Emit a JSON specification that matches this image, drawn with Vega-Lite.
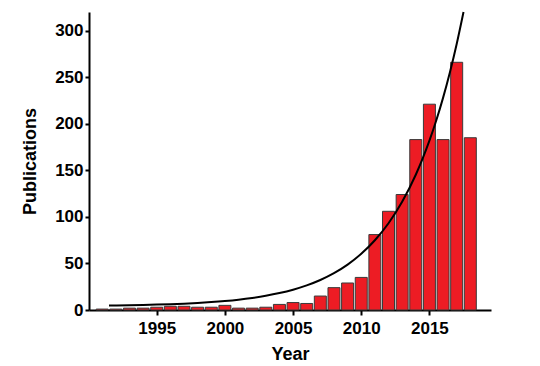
{
  "$schema": "https://vega.github.io/schema/vega-lite/v6.json",
  "width": 402,
  "height": 298,
  "autosize": "none",
  "padding": {"left": 89, "top": 12, "right": 49, "bottom": 56},
  "background": "white",
  "config": {
    "view": {"stroke": null},
    "font": "Liberation Sans",
    "axis": {
      "grid": false,
      "domainColor": "black",
      "domainWidth": 2,
      "tickColor": "black",
      "tickWidth": 2,
      "tickSize": 5,
      "labelFont": "Liberation Sans",
      "labelFontWeight": "bold",
      "labelFontSize": 17,
      "labelColor": "black",
      "titleFont": "Liberation Sans",
      "titleFontWeight": "bold",
      "titleFontSize": 18,
      "titleColor": "black"
    }
  },
  "datasets": {
    "bars": [
      {"year": 1991, "pubs": 1},
      {"year": 1992, "pubs": 1},
      {"year": 1993, "pubs": 2},
      {"year": 1994, "pubs": 2},
      {"year": 1995, "pubs": 3},
      {"year": 1996, "pubs": 4},
      {"year": 1997, "pubs": 4},
      {"year": 1998, "pubs": 3},
      {"year": 1999, "pubs": 3},
      {"year": 2000, "pubs": 5},
      {"year": 2001, "pubs": 2},
      {"year": 2002, "pubs": 2},
      {"year": 2003, "pubs": 3},
      {"year": 2004, "pubs": 6},
      {"year": 2005, "pubs": 8},
      {"year": 2006, "pubs": 7},
      {"year": 2007, "pubs": 15},
      {"year": 2008, "pubs": 24},
      {"year": 2009, "pubs": 29},
      {"year": 2010, "pubs": 35},
      {"year": 2011, "pubs": 81},
      {"year": 2012, "pubs": 106},
      {"year": 2013, "pubs": 124},
      {"year": 2014, "pubs": 183},
      {"year": 2015, "pubs": 221},
      {"year": 2016, "pubs": 183},
      {"year": 2017, "pubs": 266},
      {"year": 2018, "pubs": 185}
    ],
    "fit": [
      {"year": 1991.5, "pubs": 4.8},
      {"year": 1992, "pubs": 4.9},
      {"year": 1993, "pubs": 5.13},
      {"year": 1994, "pubs": 5.42},
      {"year": 1995, "pubs": 5.79},
      {"year": 1996, "pubs": 6.25},
      {"year": 1997, "pubs": 6.83},
      {"year": 1998, "pubs": 7.56},
      {"year": 1999, "pubs": 8.49},
      {"year": 2000, "pubs": 9.65},
      {"year": 2001, "pubs": 11.1},
      {"year": 2002, "pubs": 12.94},
      {"year": 2003, "pubs": 15.25},
      {"year": 2004, "pubs": 18.16},
      {"year": 2005, "pubs": 21.83},
      {"year": 2006, "pubs": 26.44},
      {"year": 2007, "pubs": 32.24},
      {"year": 2008, "pubs": 39.54},
      {"year": 2009, "pubs": 48.73},
      {"year": 2010, "pubs": 60.3},
      {"year": 2011, "pubs": 74.86},
      {"year": 2012, "pubs": 93.19},
      {"year": 2013, "pubs": 116.25},
      {"year": 2014, "pubs": 145.27},
      {"year": 2014.5, "pubs": 162.5},
      {"year": 2015, "pubs": 181.82},
      {"year": 2015.5, "pubs": 203.5},
      {"year": 2016, "pubs": 227.8},
      {"year": 2016.5, "pubs": 255.1},
      {"year": 2017, "pubs": 285.7},
      {"year": 2017.5, "pubs": 320.0}
    ]
  },
  "layer": [
    {
      "data": {"name": "bars"},
      "mark": {"type": "bar", "size": 12, "fill": "#ed1c24", "stroke": "#3a3a3a", "strokeWidth": 1},
      "encoding": {
        "x": {
          "field": "year", "type": "quantitative",
          "scale": {"domain": [1990.4, 2019.15], "nice": false, "zero": false},
          "axis": {"values": [1995, 2000, 2005, 2010, 2015], "format": "d", "title": "Year", "labelPadding": 5, "titlePadding": 9}
        },
        "y": {
          "field": "pubs", "type": "quantitative",
          "scale": {"domain": [0, 320], "nice": false},
          "axis": {"values": [0, 50, 100, 150, 200, 250, 300], "title": "Publications", "tickSize": 4, "labelPadding": 2, "titlePadding": 15}
        }
      }
    },
    {
      "data": {"name": "fit"},
      "mark": {"type": "line", "color": "black", "strokeWidth": 2, "interpolate": "monotone"},
      "encoding": {
        "x": {"field": "year", "type": "quantitative"},
        "y": {"field": "pubs", "type": "quantitative"}
      }
    }
  ]
}
